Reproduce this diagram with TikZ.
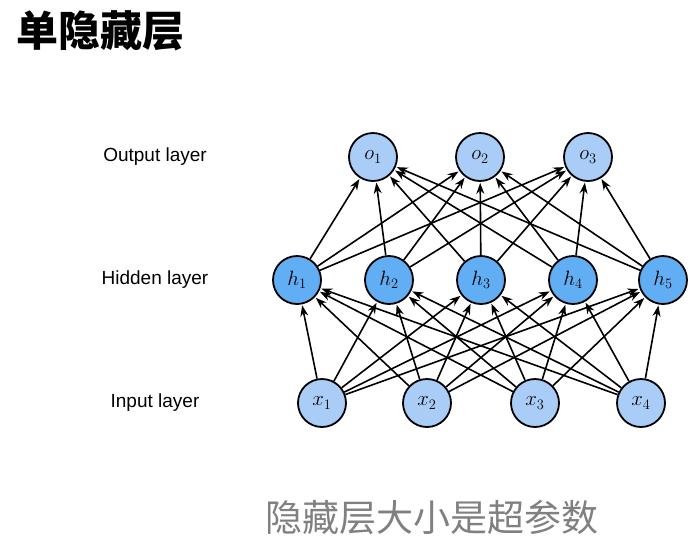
\documentclass[tikz,border=0pt]{standalone}
\usepackage{fontspec}
\setmainfont{Liberation Sans}
\newfontfamily\cjk{Noto Sans CJK SC}
\usetikzlibrary{arrows.meta}
\definecolor{inblue}{HTML}{A9CDF7}
\definecolor{hidblue}{HTML}{62AEF5}
\tikzset{
    neuron/.style={circle, draw, line width=1.8pt, minimum size=48pt, inner sep=0pt, font=\fontsize{22}{22}\selectfont},
    conn/.style={-{Stealth[length=11pt,width=8pt]}, line width=1.6pt, shorten >=1pt},
    layername/.style={font=\fontsize{19}{19}\selectfont}
}
\begin{document}
\begin{tikzpicture}[x=1pt, y=-1pt]
    \useasboundingbox (0,0) rectangle (697,542);
    \node[anchor=west, font=\cjk\bfseries\fontsize{42}{42}\selectfont] (title) at (13,31) {单隐藏层};

    \node[layername] (lo) at (155,157) {Output layer};
    \node[layername] (lh) at (155,280) {Hidden layer};
    \node[layername] (li) at (155,403) {Input layer};

    % input layer
    \foreach \i/\x in {1/322, 2/427, 3/535, 4/641}
        \node[neuron, fill=inblue] (x\i) at (\x,403) {$x_{\i}$};
    % hidden layer
    \foreach \i/\x in {1/297, 2/389, 3/481, 4/573, 5/663}
        \node[neuron, fill=hidblue] (h\i) at (\x,280) {$h_{\i}$};
    % output layer
    \foreach \i/\x in {1/373, 2/480, 3/588}
        \node[neuron, fill=inblue] (o\i) at (\x,157) {$o_{\i}$};

    \foreach \i in {1,...,4}
        \foreach \j in {1,...,5}
            \draw[conn] (x\i) -- (h\j);
    \foreach \j in {1,...,5}
        \foreach \k in {1,...,3}
            \draw[conn] (h\j) -- (o\k);

    \node[font=\cjk\fontsize{37}{37}\selectfont, text=gray] (note) at (432,518) {隐藏层大小是超参数};
\end{tikzpicture}
\end{document}
